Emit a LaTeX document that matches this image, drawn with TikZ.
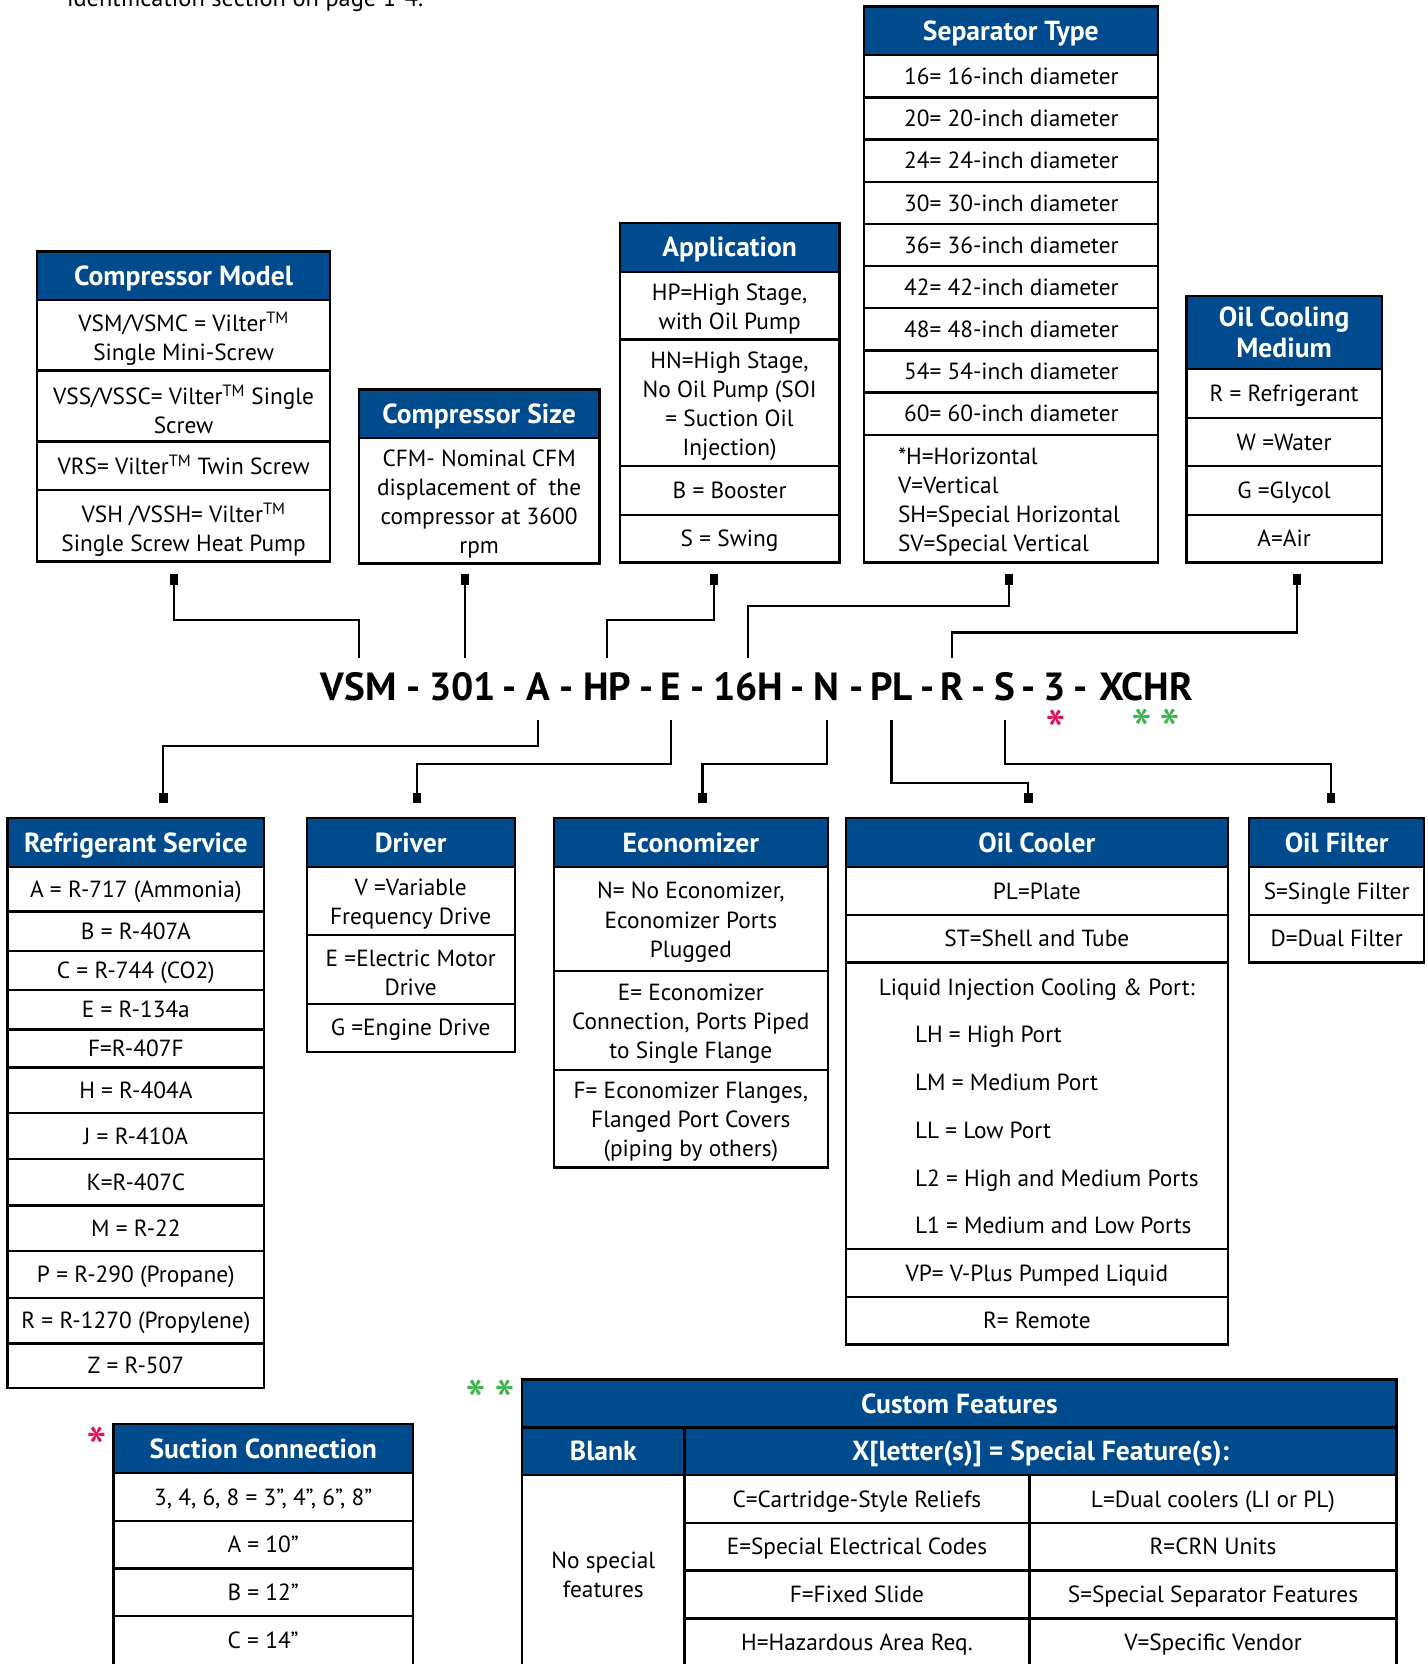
\documentclass[tikz,border=0pt]{standalone}
\usepackage{fontspec}
\setmainfont{PT Sans}
\usetikzlibrary{arrows.meta}
\definecolor{vilterblue}{RGB}{0,75,141}
\definecolor{starred}{RGB}{222,20,80}
\definecolor{stargreen}{RGB}{60,180,75}
\tikzset{
  frame/.style={line width=2.2pt},
  hdrfill/.style={fill=vilterblue},
  hdrbase/.style={text=white,font=\bfseries\fontsize{26}{29}\selectfont,align=center,inner sep=0},
  hdr/.style={hdrbase,text height=24.2pt,text depth=6pt},
  cell/.style={font=\fontsize{22}{27.5}\selectfont,align=center,inner sep=0,yshift=-3pt},
  row/.style={font=\fontsize{22}{27.5}\selectfont,align=center,inner sep=0,text height=21.4pt,text depth=6pt},
  code/.style={font=\bfseries\fontsize{37}{40}\selectfont,inner sep=0,anchor=base,text height=40pt,text depth=18pt},
  link/.style={line width=2pt},
  stub/.tip={Square[length=10pt,width=8pt]},
  star/.style={font=\fontsize{56}{56}\selectfont,inner sep=0}
}

\begin{document}
\begin{tikzpicture}[x=1pt,y=-1pt]
        \useasboundingbox (0,0) rectangle (1345,1568);
        \node[font=\fontsize{23}{27}\selectfont,inner sep=0,anchor=base west] (intro) at (63,6) {identification section on page 1-4.};

        \fill[hdrfill] (35,237) rectangle (311,283);
        \draw[frame] (35,237) rectangle (311,529);
        \foreach \y in {283,349,416,462} \draw[frame] (35,\y) -- (311,\y);
        \node[hdr] (cmh) at (173,260) {Compressor Model};
        \node[cell] (cm1) at (173,316) {VSM/VSMC = Vilter\textsuperscript{TM}\\Single Mini-Screw};
        \node[cell] (cm2) at (173,383) {VSS/VSSC= Vilter\textsuperscript{TM} Single\\Screw};
        \node[row] (cm3) at (173,439) {VRS= Vilter\textsuperscript{TM} Twin Screw};
        \node[cell] (cm4) at (173,496) {VSH /VSSH= Vilter\textsuperscript{TM}\\Single Screw Heat Pump};

        \fill[hdrfill] (338,367) rectangle (565,413);
        \draw[frame] (338,367) rectangle (565,531);
        \draw[frame] (338,413) -- (565,413);
        \node[hdr] (csh) at (451.5,390) {Compressor Size};
        \node[cell] (cs1) at (451.5,472) {CFM- Nominal CFM\\displacement of\ \ the\\compressor at 3600\\rpm};

        \fill[hdrfill] (584,210) rectangle (791,256);
        \draw[frame] (584,210) rectangle (791,530);
        \foreach \y in {256,320,439,485} \draw[frame] (584,\y) -- (791,\y);
        \node[hdr] (aph) at (687.5,233) {Application};
        \node[cell] (ap1) at (687.5,288) {HP=High Stage,\\with Oil Pump};
        \node[cell] (ap2) at (687.5,380) {HN=High Stage,\\No Oil Pump (SOI\\= Suction Oil\\Injection)};
        \node[row] (ap3) at (687.5,462) {B = Booster};
        \node[row] (ap4) at (687.5,507.5) {S = Swing};

        \fill[hdrfill] (814,6) rectangle (1091,52);
        \draw[frame] (814,6) rectangle (1091,530);
        \foreach \k in {0,...,9} \draw[frame] (814,{52+39.75*\k}) -- (1091,{52+39.75*\k});
        \node[hdr] (sth) at (952.5,29) {Separator Type};
        \foreach \d [count=\i from 0] in {16,20,24,30,36,42,48,54,60}
          \node[row] (st\d) at (953,{71.9+39.75*\i}) {\d= \d-inch diameter};
        \node[cell,align=left,anchor=west] (stori) at (846,470) {*H=Horizontal\\V=Vertical\\SH=Special Horizontal\\SV=Special Vertical};

        \fill[hdrfill] (1118,279) rectangle (1302,348);
        \draw[frame] (1118,279) rectangle (1302,530);
        \foreach \y in {348,394,439,485} \draw[frame] (1118,\y) -- (1302,\y);
        \node[hdrbase] (ocmh) at (1210,313.5) {Oil Cooling\\Medium};
        \node[row] (ocm1) at (1210,371) {R = Refrigerant};
        \node[row] (ocm2) at (1210,416.5) {W =Water};
        \node[row] (ocm3) at (1210,462) {G =Glycol};
        \node[row] (ocm4) at (1210,507.5) {A=Air};

        \foreach \nm/\x/\t in {model/338/VSM,size/436/301,refr/507/A,app/572/HP,drv/632/E,sep/705/16H,eco/779/N,cool/840/PL,medium/897/R,filt/947/S,suct/994/3,cust/1080/XCHR}
          \node[code] (\nm) at (\x,660) {\t};
        \foreach \x in {390,480,534,609,657,752,807,874,922,969,1018}
          \node[code] (dash\x) at (\x,660) {-};
        \node[star,text=starred] (suctstar) at (995,689) {*};
        \node[star,text=stargreen] (custstar1) at (1076,688) {*};
        \node[star,text=stargreen] (custstar2) at (1102,688) {*};

        \coordinate (cmpin) at (164,541);
        \coordinate (cspin) at (438,541);
        \coordinate (appin) at (673,541);
        \coordinate (stpin) at (951,541);
        \coordinate (ocmpin) at (1222,541);
        \draw[link,stub-] (cmpin) -- ++(0,43) -| (model.north);
        \draw[link,stub-] (cspin) -- (cspin |- size.north);
        \draw[link,stub-] (appin) -- ++(0,43) -| (app.north);
        \draw[link,stub-] (stpin) -- ++(0,30) -| (sep.north);
        \draw[link,stub-] (ocmpin) -- ++(0,55) -| (medium.north);

        \coordinate (rspin) at (154,757);
        \coordinate (drpin) at (393,757);
        \coordinate (ecpin) at (662,757);
        \coordinate (ocpin) at (969,757);
        \coordinate (ofpin) at (1254,757);
        \draw[link,-stub] (refr.south) -- ++(0,25) -| (rspin);
        \draw[link,-stub] (drv.south) -- ++(0,42) -| (drpin);
        \draw[link,-stub] (eco.south) -- ++(0,42) -| (ecpin);
        \draw[link,-stub] (cool.south) -- ++(0,60) -| (ocpin);
        \draw[link,-stub] (filt.south) -- ++(0,42) -| (ofpin);

        \fill[hdrfill] (7,771) rectangle (249,817);
        \draw[frame] (7,771) rectangle (249,1308);
        \foreach \y in {817,859,896,933,970,1006,1049,1092,1136,1179,1223,1266} \draw[frame] (7,\y) -- (249,\y);
        \node[hdr] (rsh) at (128,794) {Refrigerant Service};
        \foreach \t/\y [count=\i] in {A = R-717 (Ammonia)/838,B = R-407A/877.5,C = R-744 (CO2)/914.5,E = R-134a/951.5,F=R-407F/988,H = R-404A/1027.5,J = R-410A/1070.5,K=R-407C/1114,M = R-22/1157.5,P = R-290 (Propane)/1201,R = R-1270 (Propylene)/1244.5,Z = R-507/1287}
          \node[row] (rs\i) at (128,\y) {\t};

        \fill[hdrfill] (289,771) rectangle (485,817);
        \draw[frame] (289,771) rectangle (485,991);
        \foreach \y in {817,881,946} \draw[frame] (289,\y) -- (485,\y);
        \node[hdr] (drh) at (387,794) {Driver};
        \node[cell] (dr1) at (387,849) {V =Variable\\Frequency Drive};
        \node[cell] (dr2) at (387,913.5) {E =Electric Motor\\Drive};
        \node[row] (dr3) at (387,968.5) {G =Engine Drive};

        \fill[hdrfill] (522,771) rectangle (780,817);
        \draw[frame] (522,771) rectangle (780,1100);
        \foreach \y in {817,915,1008} \draw[frame] (522,\y) -- (780,\y);
        \node[hdr] (ech) at (651,794) {Economizer};
        \node[cell] (ec1) at (651,866) {N= No Economizer,\\Economizer Ports\\Plugged};
        \node[cell] (ec2) at (651,961.5) {E= Economizer\\Connection, Ports Piped\\to Single Flange};
        \node[cell] (ec3) at (651,1054) {F= Economizer Flanges,\\Flanged Port Covers\\(piping by others)};

        \fill[hdrfill] (797,771) rectangle (1157,817);
        \draw[frame] (797,771) rectangle (1157,1267);
        \foreach \y in {817,862,907,1177,1222} \draw[frame] (797,\y) -- (1157,\y);
        \node[hdr] (och) at (977,794) {Oil Cooler};
        \node[row] (oc1) at (977,839.5) {PL=Plate};
        \node[row] (oc2) at (977,884.5) {ST=Shell and Tube};
        \node[row] (oc3) at (977,930) {Liquid Injection Cooling \& Port:};
        \foreach \t [count=\i] in {LH = High Port,LM = Medium Port,LL = Low Port,L2 = High and Medium Ports,L1 = Medium and Low Ports}
          \node[row,anchor=west] (li\i) at (862,{930+45*\i}) {\t};
        \node[row] (oc4) at (977,1199.5) {VP= V-Plus Pumped Liquid};
        \node[row] (oc5) at (977,1244.5) {R= Remote};

        \fill[hdrfill] (1177,771) rectangle (1342,817);
        \draw[frame] (1177,771) rectangle (1342,907);
        \foreach \y in {817,862} \draw[frame] (1177,\y) -- (1342,\y);
        \node[hdr] (ofh) at (1259.5,794) {Oil Filter};
        \node[row] (of1) at (1259.5,839.5) {S=Single Filter};
        \node[row] (of2) at (1259.5,884.5) {D=Dual Filter};

        \node[star,text=starred] (scstar) at (91,1365) {*};
        \fill[hdrfill] (107,1342) rectangle (389,1388);
        \draw[frame] (107,1342) rectangle (389,1570);
        \foreach \y in {1388,1433,1478,1523} \draw[frame] (107,\y) -- (389,\y);
        \node[hdr] (sch) at (248,1365) {Suction Connection};
        \node[row] (sc1) at (248,1410.5) {3, 4, 6, 8 = 3”, 4”, 6”, 8”};
        \node[row] (sc2) at (248,1455.5) {A = 10”};
        \node[row] (sc3) at (248,1500.5) {B = 12”};
        \node[row] (sc4) at (248,1545.5) {C = 14”};

        \node[star,text=stargreen] (cfstar1) at (448,1320) {*};
        \node[star,text=stargreen] (cfstar2) at (476,1320) {*};
        \fill[hdrfill] (492,1300) rectangle (1316,1390);
        \draw[frame] (492,1300) rectangle (1316,1570);
        \foreach \y in {1345,1390} \draw[frame] (492,\y) -- (1316,\y);
        \foreach \y in {1435,1480,1525} \draw[frame] (645,\y) -- (1316,\y);
        \draw[frame] (645,1345) -- (645,1570);
        \draw[frame] (970,1390) -- (970,1570);
        \node[hdr] (cfh) at (904,1322.5) {Custom Features};
        \node[hdr] (cfblank) at (568.5,1367.5) {Blank};
        \node[hdr] (cfx) at (980.5,1367.5) {X[letter(s)] = Special Feature(s):};
        \node[cell] (cfnone) at (568.5,1481) {No special\\features};
        \node[row] (cfc) at (807.5,1412.5) {C=Cartridge-Style Reliefs};
        \node[row] (cfe) at (807.5,1457.5) {E=Special Electrical Codes};
        \node[row] (cff) at (807.5,1502.5) {F=Fixed Slide};
        \node[row] (cfhz) at (807.5,1547.5) {H=Hazardous Area Req.};
        \node[row] (cfl) at (1143,1412.5) {L=Dual coolers (LI or PL)};
        \node[row] (cfr) at (1143,1457.5) {R=CRN Units};
        \node[row] (cfs) at (1143,1502.5) {S=Special Separator Features};
        \node[row] (cfv) at (1143,1547.5) {V=Specific Vendor};
      \end{tikzpicture}
\end{document}
